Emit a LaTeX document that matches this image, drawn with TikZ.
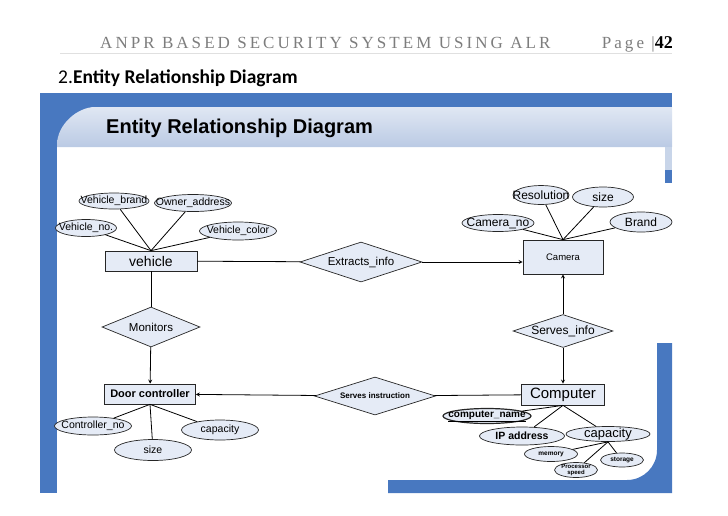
\documentclass[tikz,border=0pt]{standalone}
\usepackage{fontspec}
\setmainfont{Liberation Sans}
\newfontfamily\headfont[LetterSpace=18]{Liberation Serif}
\newfontfamily\headplain{Liberation Serif}
\newfontfamily\calibri{Carlito}
\usepackage{tikz}
\usetikzlibrary{shapes.geometric, arrows}
\definecolor{slideblue}{RGB}{72,120,192}
\definecolor{bandtop}{RGB}{224,231,243}
\definecolor{bandbot}{RGB}{186,202,228}
\definecolor{erfill}{RGB}{229,235,246}
\definecolor{headgray}{RGB}{125,125,125}
\tikzstyle{entity} = [rectangle, draw=black!85, line width=0.7pt, fill=erfill, inner sep=0pt]
\tikzstyle{relation} = [diamond, aspect=3, draw=black!85, line width=0.7pt, fill=erfill, inner sep=0pt]
\tikzstyle{attrib} = [ellipse, draw=black!85, line width=0.7pt, fill=erfill, inner xsep=-11pt, inner ysep=-2pt]
\tikzstyle{line} = [line width=0.8pt, black]
\tikzstyle{arrow} = [line width=0.8pt, black, ->, >=stealth]

\begin{document}
\begin{tikzpicture}[x=1pt, y=-1pt]
\useasboundingbox (0,0) rectangle (728,515);
% page header
\node (header) [anchor=base west, inner sep=0pt, text=headgray, font=\headfont\fontsize{17}{20}\selectfont] at (100,48) {ANPR BASED SECURITY SYSTEM USING ALR};
\node (pageno) [anchor=base east, inner sep=0pt, text=headgray, font=\headfont\fontsize{17}{20}\selectfont] at (673,48) {Page |{\headplain\color{black}\bfseries\fontsize{18}{20}\selectfont 42}};
\draw [black!12] (60,53) -- (672,53);
\node (section) [anchor=base west, inner sep=0pt, font=\calibri\fontsize{19.5}{22}\selectfont] at (58,83) {2.\textbf{Entity Relationship Diagram}};
% slide frame
\fill [slideblue] (40,93) rectangle (672,107);
\fill [slideblue] (40,93) rectangle (57,493);
\fill [slideblue] (57,107) rectangle (100,146);
\shade [top color=bandtop, bottom color=bandbot] (57,147) -- (57,145) .. controls (57,124) and (78,107) .. (95,107) -- (672,107) -- (672,147) -- cycle;
\fill [bandbot!80] (665,147) rectangle (672,170);
\fill [slideblue] (665,170) rectangle (672,183);
\fill [slideblue] (657,343) -- (672,343) -- (672,493) -- (388,493) -- (388,480) -- (627,480) .. controls (643.6,480) and (657,466.6) .. (657,450) -- cycle;
\node (slidetitle) [anchor=base west, inner sep=0pt, font=\bfseries\fontsize{20}{24}\selectfont] at (106,133) {Entity Relationship Diagram};
% entities
\node (vehicle) [entity, minimum width=92, minimum height=20, font=\fontsize{14}{16}\selectfont] at (151,261) {vehicle};
\node (camera) [entity, minimum width=80, minimum height=34, font=\fontsize{9.5}{11}\selectfont] at (563,257) {Camera};
\node (door) [entity, minimum width=91, minimum height=20, font=\bfseries\fontsize{11}{13}\selectfont] at (150,394) {Door controller};
\node (computer) [entity, minimum width=83, minimum height=21, font=\fontsize{15}{17}\selectfont] at (563,394.5) {Computer};
% relationships
\node (extracts) [relation, minimum width=122, minimum height=40, font=\fontsize{11.5}{13}\selectfont] at (361,262) {Extracts\_info};
\node (monitors) [relation, minimum width=98, minimum height=40, font=\fontsize{11.5}{13}\selectfont] at (151,327) {Monitors};
\node (servesinfo) [relation, minimum width=100, minimum height=33, font=\fontsize{12}{14}\selectfont] at (563,331) {Serves\_info};
\node (servesinstr) [relation, minimum width=121, minimum height=38, font=\bfseries\fontsize{8}{10}\selectfont] at (375,396) {Serves instruction};
% vehicle attributes
\node (vbrand) [attrib, minimum width=70, minimum height=16, font=\fontsize{10.5}{12}\selectfont] at (114,201) {Vehicle\_brand};
\node (owner) [attrib, minimum width=77, minimum height=17, font=\fontsize{10.5}{12}\selectfont] at (193,203) {Owner\_address};
\node (vno) [attrib, minimum width=61, minimum height=17, font=\fontsize{10.5}{12}\selectfont] at (86,228) {Vehicle\_no.};
\node (vcolor) [attrib, minimum width=77, minimum height=18, font=\fontsize{10.5}{12}\selectfont] at (238,231) {Vehicle\_color};
% camera attributes
\node (resolution) [attrib, minimum width=56, minimum height=19, font=\fontsize{12}{14}\selectfont] at (541,195) {Resolution};
\node (csize) [attrib, minimum width=61, minimum height=20, font=\fontsize{12}{14}\selectfont] at (603,197) {size};
\node (camno) [attrib, minimum width=72, minimum height=17, font=\fontsize{12}{14}\selectfont] at (498,223) {Camera\_no};
\node (brand) [attrib, minimum width=62, minimum height=20, font=\fontsize{12}{14}\selectfont] at (641,222) {Brand};
% door controller attributes
\node (ctrlno) [attrib, minimum width=77, minimum height=18, font=\fontsize{10.5}{12}\selectfont] at (93,426) {Controller\_no};
\node (dsize) [attrib, minimum width=77, minimum height=21, font=\fontsize{10.5}{12}\selectfont] at (153,450) {size};
\node (dcap) [attrib, minimum width=77, minimum height=20, font=\fontsize{10.5}{12}\selectfont] at (220,430) {capacity};
% computer attributes
\node (compname) [attrib, line width=1.2pt, minimum width=88, minimum height=15, font=\bfseries\fontsize{10}{12}\selectfont] at (487,416) {\underline{computer\_name}};
\node (ipaddr) [attrib, minimum width=85, minimum height=18, font=\bfseries\fontsize{10.5}{12}\selectfont] at (522,436) {IP address};
\node (ccap) [attrib, minimum width=84, minimum height=15, font=\fontsize{13}{15}\selectfont] at (608,434) {capacity};
\node (memory) [attrib, minimum width=53, minimum height=15, font=\bfseries\fontsize{6.5}{8}\selectfont] at (551,454) {memory};
\node (storage) [attrib, minimum width=43, minimum height=14, font=\bfseries\fontsize{6.5}{8}\selectfont] at (622,460) {storage};
\node (procspeed) [attrib, minimum width=43, minimum height=15, align=center, font=\bfseries\fontsize{6}{6.5}\selectfont] at (576,470) {Processor\\speed};
% connectors
\draw [line] (vbrand) -- (vehicle.north);
\draw [line] (owner) -- (vehicle.north);
\draw [line] (vno) -- (vehicle.north);
\draw [line] (vcolor) -- (vehicle.north);
\draw [line] (resolution) -- (camera.north);
\draw [line] (csize) -- (camera.north);
\draw [line] (camno) -- (camera.north);
\draw [line] (brand) -- (camera.north);
\draw [line] (ctrlno) -- (door.south);
\draw [line] (dsize) -- (door.south);
\draw [line] (dcap) -- (door.south);
\draw [line] (compname) -- (computer.south);
\draw [line] (ipaddr) -- (computer.south);
\draw [line] (ccap) -- (computer.south);
\draw [line] (memory) -- (ccap.south);
\draw [line] (storage) -- (ccap.south);
\draw [line] (procspeed) -- (ccap.south);
\draw [line] (vehicle) -- (extracts);
\draw [arrow] (extracts.east) -- (extracts.east -| camera.west);
\draw [line] (vehicle) -- (monitors);
\draw [arrow] (monitors) -- (door);
\draw [arrow] (servesinfo) -- (camera);
\draw [arrow] (servesinfo) -- (computer);
\draw [line] (servesinstr) -- (computer);
\draw [arrow] (servesinstr) -- (door);
\end{tikzpicture}
\end{document}
